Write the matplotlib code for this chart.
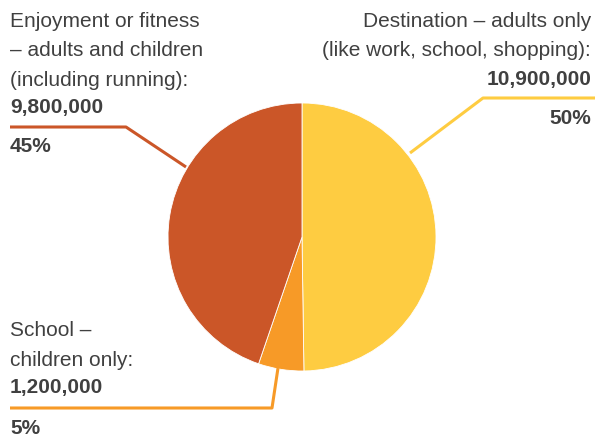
import matplotlib.pyplot as plt

plt.rcParams['font.family'] = ['Liberation Sans', 'DejaVu Sans']

categories = [['Destination \u2013 adults only', '(like work, school, shopping):'],
              ['School \u2013', 'children only:'],
              ['Enjoyment or fitness', '\u2013 adults and children', '(including running):']]
values = [10900000, 1200000, 9800000]
value_labels = ['10,900,000', '1,200,000', '9,800,000']
pct_labels = ['50%', '5%', '45%']
colors = ['#fecc41', '#f79a27', '#cb5628']

W, H = 595, 436
txt = '#404040'

fig = plt.figure(figsize=(W / 100, H / 100), dpi=100)
ax = fig.add_axes([0, 0, 1, 1])

ax.pie(values, colors=colors, startangle=90, counterclock=False,
       center=(302, H - 237), radius=134,
       wedgeprops=dict(linewidth=0.6, edgecolor='white'))
ax.set_xlim(0, W)
ax.set_ylim(0, H)
ax.set_aspect('equal')
ax.axis('off')


def y(v):
    return H - v


fs = 15


def block(x, ha, lines, ys, value, vy, pct, py):
    for line, ly in zip(lines, ys):
        ax.text(x, y(ly), line, ha=ha, va='center', fontsize=fs, color=txt)
    ax.text(x, y(vy), value, ha=ha, va='center', fontsize=fs,
            color=txt, fontweight='bold')
    ax.text(x, y(py), pct, ha=ha, va='center', fontsize=fs,
            color=txt, fontweight='bold')


# Destination (right, right-aligned)
block(591, 'right', categories[0], [22, 51], value_labels[0], 80, pct_labels[0], 118)
ax.plot([595, 483, 410], [y(98), y(98), y(153)], color=colors[0], lw=2.2,
        solid_capstyle='butt')

# Enjoyment (top left)
block(10, 'left', categories[2], [22, 51, 80], value_labels[2], 108, pct_labels[2], 147)
ax.plot([10, 126, 186], [y(127), y(127), y(167)], color=colors[2], lw=2.2,
        solid_capstyle='butt')

# School (bottom left)
block(10, 'left', categories[1], [331, 360], value_labels[1], 388, pct_labels[1], 428)
ax.plot([10, 272, 278], [y(408), y(408), y(368)], color=colors[1], lw=2.2,
        solid_capstyle='butt')

fig.savefig('out.png', dpi=100)
